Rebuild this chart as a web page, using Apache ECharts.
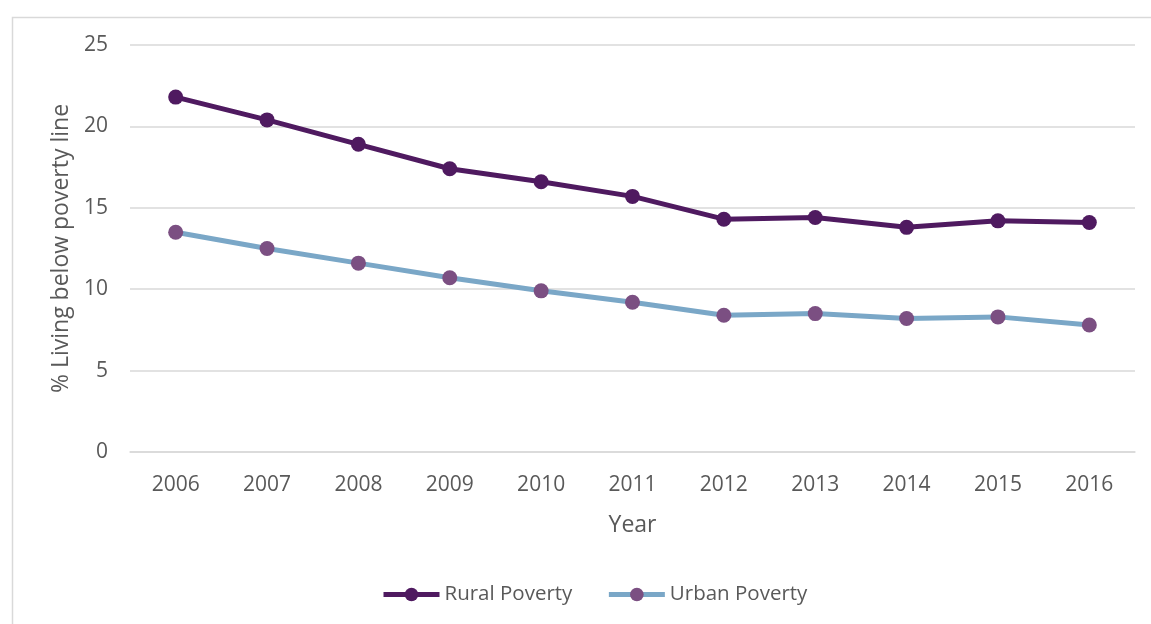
<!DOCTYPE html>
<html><head><meta charset="utf-8">
<script src="https://cdn.jsdelivr.net/npm/echarts@6/dist/echarts.min.js"></script>
<style>html,body{margin:0;padding:0;background:#fff}#c{width:1151px;height:624px}</style>
</head><body><div id="c"></div>
<script>
var years = ['2006','2007','2008','2009','2010','2011','2012','2013','2014','2015','2016'];
var rural = [21.8, 20.4, 18.9, 17.4, 16.6, 15.7, 14.3, 14.4, 13.8, 14.2, 14.1];
var urban = [13.5, 12.5, 11.6, 10.7, 9.9, 9.2, 8.4, 8.5, 8.2, 8.3, 7.8];
var yTicks = [0, 5, 10, 15, 20, 25];

var font = '"Open Sans", "Liberation Sans", sans-serif';
var chart = echarts.init(document.getElementById('c'));
chart.setOption({
  animation: false,
  backgroundColor: '#fff',
  graphic: [{
    type: 'rect', left: 10, top: 15, silent: true,
    shape: { width: 1160, height: 640 },
    style: { fill: 'none', stroke: '#d9d9d9', lineWidth: 1.5 }
  }],
  grid: { left: 130, right: 16, top: 45, bottom: 172, containLabel: false },
  legend: {
    bottom: 14, left: 376, itemWidth: 56, itemHeight: 17, itemGap: 34,
    lineStyle: { width: 5 },
    textStyle: { fontFamily: font, fontSize: 20.5, color: '#595959', padding: [0, 0, 0, 0] },
    data: ['Rural Poverty', 'Urban Poverty']
  },
  xAxis: {
    type: 'category', data: years, boundaryGap: true,
    name: 'Year', nameLocation: 'middle', nameGap: 62,
    nameTextStyle: { fontFamily: font, fontSize: 23, color: '#595959' },
    axisLine: { lineStyle: { color: '#d9d9d9', width: 1.5 } },
    axisTick: { show: false },
    axisLabel: { fontFamily: font, fontSize: 21, color: '#595959', margin: 23 }
  },
  yAxis: {
    type: 'value', min: yTicks[0], max: yTicks[yTicks.length-1], interval: 5,
    name: '% Living below poverty line', nameLocation: 'middle', nameGap: 56,
    nameTextStyle: { fontFamily: font, fontSize: 23, color: '#595959' },
    axisLine: { show: false }, axisTick: { show: false },
    axisLabel: { fontFamily: font, fontSize: 21, color: '#595959', margin: 22 },
    splitLine: { lineStyle: { color: '#d9d9d9', width: 1.5 } }
  },
  series: [{
    name: 'Rural Poverty', type: 'line', data: rural,
    symbol: 'circle', symbolSize: 15,
    lineStyle: { color: '#4f1a60', width: 5 },
    itemStyle: { color: '#4f1a60' }
  }, {
    name: 'Urban Poverty', type: 'line', data: urban,
    symbol: 'circle', symbolSize: 15,
    lineStyle: { color: '#7aa7c7', width: 5 },
    itemStyle: { color: '#7b4f82' }
  }]
});
</script></body></html>
